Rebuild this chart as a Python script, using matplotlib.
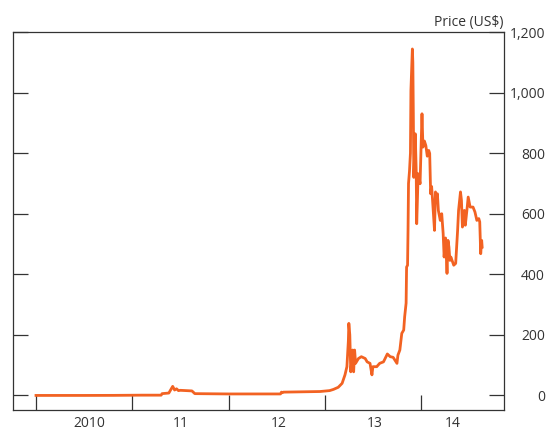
import matplotlib
matplotlib.use("Agg")
import matplotlib.pyplot as plt

# ── Data (fractional year, US$ price) ────────────────────────────────────────
years = [
    2010.00, 2010.50, 2010.80, 2011.10, 2011.30, 2011.31, 2011.38, 2011.42,
    2011.44, 2011.46, 2011.48, 2011.50, 2011.62, 2011.65, 2012.00, 2012.30,
    2012.54, 2012.55, 2012.56, 2012.57, 2012.95, 2013.05, 2013.09, 2013.14,
    2013.18, 2013.21, 2013.23, 2013.245, 2013.25, 2013.26, 2013.27, 2013.29,
    2013.30, 2013.31, 2013.32, 2013.35, 2013.38, 2013.42, 2013.44, 2013.47,
    2013.49, 2013.50, 2013.54, 2013.57, 2013.61, 2013.65, 2013.68, 2013.71,
    2013.75, 2013.76, 2013.78, 2013.80, 2013.82, 2013.83, 2013.845, 2013.85,
    2013.86, 2013.865, 2013.87, 2013.88, 2013.89, 2013.895, 2013.91, 2013.915,
    2013.92, 2013.925, 2013.93, 2013.94, 2013.95, 2013.955, 2013.96, 2013.97,
    2013.98, 2013.99, 2014.01, 2014.02, 2014.035, 2014.05, 2014.065, 2014.08,
    2014.09, 2014.10, 2014.11, 2014.12, 2014.14, 2014.15, 2014.16, 2014.17,
    2014.18, 2014.20, 2014.215, 2014.23, 2014.24, 2014.255, 2014.27, 2014.28,
    2014.29, 2014.30, 2014.31, 2014.34, 2014.36, 2014.38, 2014.39, 2014.41,
    2014.42, 2014.43, 2014.45, 2014.46, 2014.48, 2014.49, 2014.51, 2014.54,
    2014.56, 2014.58, 2014.60, 2014.61, 2014.62, 2014.63, 2014.635,
]
price = [
    0.1, 0.1, 0.3, 1, 1, 6, 8, 30,
    18, 22, 16, 17, 15, 6, 5, 5,
    5, 11, 9, 11, 13, 16, 20, 27,
    40, 68, 95, 180, 238, 200, 78, 150,
    78, 150, 106, 122, 128, 122, 111, 106,
    68, 95, 95, 106, 111, 137, 128, 126,
    106, 133, 150, 205, 216, 260, 305, 424,
    430, 545, 700, 740, 800, 1007, 1144, 1100,
    930, 720, 765, 864, 740, 567, 620, 732,
    720, 699, 930, 820, 840, 825, 790, 809,
    799, 666, 690, 644, 545, 672, 640, 666,
    611, 578, 600, 534, 457, 520, 403, 512,
    490, 446, 457, 430, 436, 545, 611, 672,
    644, 556, 611, 562, 622, 655, 622, 622,
    606, 578, 584, 573, 468, 512, 490,
]

year_ticks = [2010, 2011, 2012, 2013, 2014]
label_pos = [2010.55, 2011.5, 2012.52, 2013.52, 2014.33]
label_txt = ["2010", "11", "12", "13", "14"]
y_ticks = [0, 200, 400, 600, 800, 1000, 1200]
y_labels = ["0", "200", "400", "600", "800", "1,000", "1,200"]

ORANGE = "#F26222"
DARK = "#333333"
FS = 10

plt.rcParams["font.family"] = ["Open Sans", "DejaVu Sans"]

fig = plt.figure(figsize=(5.51, 4.32), dpi=100, facecolor="white")
ax = fig.add_axes([13 / 551, 1 - 410 / 432, (504 - 13) / 551, (410 - 32) / 432])

ax.plot(years, price, color=ORANGE, lw=2.0, solid_joinstyle="round", zorder=3)

ax.set_xlim(2009.761, 2014.862)
ax.set_ylim(-48, 1200)

# x: year boundary ticks (inward), labels centred between them
ax.set_xticks(year_ticks)
ax.set_xticklabels([])
ax.set_xticks(label_pos, minor=True)
ax.set_xticklabels(label_txt, minor=True)
ax.tick_params(axis="x", which="major", direction="in", length=10.5,
               width=0.9, color=DARK)
ax.tick_params(axis="x", which="minor", length=0, pad=4, labelsize=FS,
               labelcolor=DARK)

# y: inward ticks on both sides, labels on the right
ax.set_yticks(y_ticks)
ax.set_yticklabels(y_labels)
ax.tick_params(axis="y", which="major", direction="in", length=10.5,
               width=0.9, color=DARK, left=True, right=True,
               labelleft=False, labelright=True, labelsize=FS,
               labelcolor=DARK, pad=29.5)
for lab in ax.get_yticklabels():
    lab.set_horizontalalignment("right")

for sp in ax.spines.values():
    sp.set_color(DARK)
    sp.set_linewidth(0.9)

ax.text(1.0, 1.006, "Price (US$)", transform=ax.transAxes, ha="right",
        va="bottom", fontsize=FS, color=DARK)

fig.savefig("out.png", dpi=100, facecolor="white")
